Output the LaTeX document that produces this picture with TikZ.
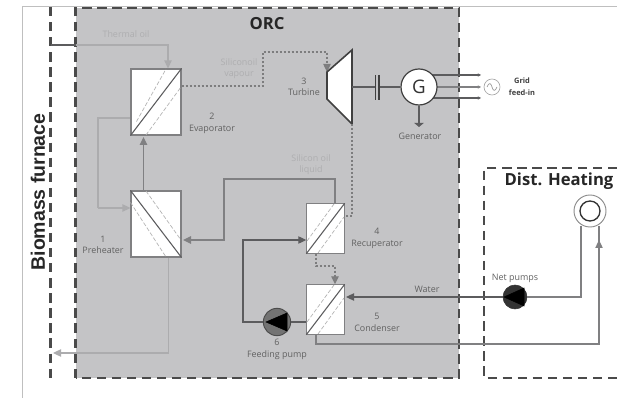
\documentclass[tikz,border=0pt]{standalone}
\usepackage{fontspec}
\setmainfont{Open Sans}
\newfontfamily\arialfont{Liberation Sans}
\usetikzlibrary{arrows.meta}
\definecolor{orcgray}{HTML}{C4C4C6}
\definecolor{dashgray}{HTML}{4A4A4A}
\definecolor{oilgray}{HTML}{ACACAE}
\definecolor{midgray}{HTML}{808082}
\definecolor{darkline}{HTML}{5C5C5E}
\definecolor{lighttext}{HTML}{AEAEB0}
\tikzset{
  frameline/.style={draw=black!25,line width=0.6pt},
  bigdash/.style={draw=dashgray,line width=1.6pt,dash pattern=on 7pt off 4.3pt},
  exbox/.style={draw=midgray,fill=white,line width=0.8pt,inner sep=0pt},
  diagmain/.style={draw=darkline,line width=0.8pt},
  diagdash/.style={draw=black!30,line width=0.5pt,dash pattern=on 3pt off 1.5pt},
  oilpipe/.style={draw=oilgray,line width=0.9pt},
  oilarrow/.style={oilpipe,-{Triangle[length=6pt,width=5.5pt]}},
  pipe/.style={draw=midgray,line width=1.1pt},
  pipearrow/.style={pipe,-{Triangle[length=6pt,width=5.5pt]}},
  darkpipe/.style={draw=darkline,line width=0.8pt},
  darkarrow/.style={darkpipe,-{Triangle[length=6pt,width=5.5pt]}},
  vapour/.style={draw=darkline!80,line width=1pt,dash pattern=on 1.5pt off 1.5pt},
  vapourarrow/.style={vapour,-{Triangle[length=6pt,width=5.5pt,fill=midgray,sep=0pt]}},
  lab/.style={font=\fontsize{6.7}{7.5}\selectfont,text=black!62,inner sep=0pt,align=center},
  lightlab/.style={font=\fontsize{6.7}{7.5}\selectfont,text=lighttext,inner sep=0pt,align=center},
  head/.style={font=\bfseries\fontsize{12.5}{14}\selectfont,text=black!85,inner sep=0pt},
  pumpbody/.style={circle,draw=black!70,fill=black!55,line width=0.7pt,inner sep=0pt},
  wire/.style={draw=darkline,line width=0.9pt}
}
\begin{document}
\begin{tikzpicture}[x=0.75pt,y=-0.75pt]
\useasboundingbox (0,0) rectangle (617,398);
\fill[white] (0,0) rectangle (617,398);
\draw[frameline] (617,6) -- (22.5,6) -- (22.5,398);
% ORC region
\fill[orcgray] (75.5,8) rectangle (459,378);
\draw[bigdash] (75.5,378) -- (75.5,8) -- (459,8) -- (459,378) -- cycle;
\draw[bigdash] (50.5,7) -- (50.5,379);
\draw[bigdash] (617,168) -- (484,168) -- (484,378) -- (617,378);
% Nodes
\node[exbox,minimum width=37.5pt,minimum height=49.5pt] (evap) at (156,102) {};
\node[exbox,minimum width=37.5pt,minimum height=49.5pt] (preh) at (156,224) {};
\node[exbox,minimum width=28pt,minimum height=37pt] (recu) at (325.5,228.5) {};
\node[exbox,minimum width=28pt,minimum height=37pt] (cond) at (325.5,309.5) {};
\coordinate (oilstart) at (50.5,45);
\coordinate (oilcorner) at (168,45);
\coordinate (evapin) at (evap.north -| oilcorner);
\coordinate (furnaceout) at (53,353);
% Exchanger diagonals
\draw[diagdash] (evap.south west)++(6,-14) -- (166,69);
\draw[diagdash] (146,135) -- (181,87);
\draw[diagmain] (evap.south west) -- (evap.north east);
\draw[diagdash] (preh.north west)++(0,12) -- (166,257);
\draw[diagdash] (146,191) -- (181,240);
\draw[diagmain] (preh.north west) -- (preh.south east);
\draw[diagdash] (307,241) -- (334,204);
\draw[diagdash] (318,253) -- (344,217);
\draw[diagmain] (recu.south west) -- (recu.north east);
\draw[diagdash] (307,322) -- (334,285);
\draw[diagdash] (318,334) -- (344,298);
\draw[diagmain] (cond.south west) -- (cond.north east);
% Oil circuit
\draw[darkpipe] (oilstart) -- (75.5,45);
\draw[oilarrow] (75.5,45) -- (oilcorner) -- (evapin);
\draw[oilpipe] (evap.west |- 0,118) -- (98,118) -- (98,208);
\draw[oilarrow] (98,208) -- (preh.west |- 0,208);
\draw[oilarrow] (preh.south -| 168.5,0) -- (168.5,353) -- (furnaceout);
\draw[pipearrow] (preh.north -| 143.5,0) -- (143.5,137);
% Vapour
\coordinate (turbtop) at (327,72);
\draw[vapourarrow] (evap.east |- 0,86) -- (263,86) -- (263,52) -- (327,52) -- (turbtop);
% Turbine and generator
\draw[draw=black!75,fill=white,line width=1.2pt] (327,72) -- (352,50) -- (352,124) -- (327,99) -- cycle;
\coordinate (turbout) at (352,87);
\coordinate (turbbase) at (352,124);
\coordinate (gtop) at (430,75);
\coordinate (gmid) at (430,87);
\coordinate (glow) at (430,98);
\draw[wire,-{Stealth[length=2.5pt,width=2.5pt]}] (gtop) -- (481,75);
\draw[draw=midgray,line width=0.8pt,-{Stealth[length=2.5pt,width=2.5pt]}] (gmid) -- (481,87);
\draw[wire,-{Stealth[length=2.5pt,width=2.5pt]}] (glow) -- (481,98);
\node[circle,draw=black!75,fill=white,line width=0.9pt,minimum size=27pt,inner sep=0pt,font=\fontsize{14}{16}\selectfont,text=black!80] (gen) at (419,87) {G};
\coordinate (coupa) at (375.5,87);
\coordinate (coupb) at (379,87);
\draw[wire] (turbout) -- (coupa);
\draw[wire] (coupb) -- (gen);
\draw[draw=black!75,line width=1pt] (375.5,75) -- (375.5,100);
\draw[draw=black!75,line width=1pt] (379,75) -- (379,100);
\node[circle,draw=black!35,line width=0.5pt,minimum size=12pt,inner sep=0pt,fill=white] (grid) at (492,87) {};
\draw[draw=black!40,line width=0.5pt] (487,87) .. controls (489,82) and (491,83) .. (492,87) .. controls (493,91) and (495,92) .. (497,87);
\coordinate (genlow) at (419,127);
\draw[darkpipe,-{Triangle[length=3pt,width=7pt]}] (gen.south) -- (genlow);
% Recuperator links
\draw[vapour] (turbbase) -- (352,216) -- (recu.east |- 0,216);
\draw[pipearrow] (recu.north -| 335,0) -- (335,179) -- (224,179) -- (224,240) -- (183,240);
\node[pumpbody,minimum size=20.5pt] (feedpump) at (277,322) {};
\draw[darkarrow] (feedpump.west) -- (243,322) -- (243,240) -- (recu.west |- 0,240);
\draw[darkpipe] (cond.west |- 0,322) -- (feedpump.east);
\draw[fill=black,draw=black] (266,322) -- (287,313) -- (287,331) -- cycle;
\draw[vapourarrow] (recu.south -| 316,0) -- (316,266) -- (335,266) -- (cond.north -| 335,0);
% Water circuit
\coordinate (ringleft) at (581,226);
\coordinate (ringright) at (599,226);
\node[circle,draw=black!45,fill=white,line width=0.7pt,minimum size=24pt,inner sep=0pt] (ring) at (590,211) {};
\node[circle,draw=black!80,fill=white,line width=1pt,minimum size=15pt,inner sep=0pt] (ringin) at (590,211) {};
\node[circle,draw=black!80,fill=black!80,minimum size=18pt,inner sep=0pt] (netpump) at (515,297) {};
\draw[fill=black,draw=black] (504,297) -- (524,288) -- (524,306) -- cycle;
\draw[pipe] (ringleft) -- (581,297) -- (netpump.east);
\draw[darkarrow] (netpump.west) -- (346,297);
\draw[pipe] (cond.south -| 316,0) -- (316,344) -- (599,344) -- (ringright);
\draw[oilarrow,draw=midgray] (599,250) -- (599,240);
% Labels
\node[head] (orc) at (267,24) {ORC};
\node[head] (dist) at (559,181) {Dist. Heating};
\node[font=\arialfont\bfseries\fontsize{14.6}{17}\selectfont,text=black!85,inner sep=0pt,rotate=90] (furn) at (38,192) {Biomass furnace};
\node[lightlab] (tlab) at (126,34) {Thermal oil};
\node[lightlab] (vlab) at (239,69) {Siliconoil\\[1pt]vapour};
\node[lightlab] (llab) at (311,165) {Silicon oil\\[1pt]liquid};
\node[lab] (l2) at (212,123.5) {2\\[1pt]Evaporator};
\node[lab] (l1) at (103,245) {1\\[1pt]Preheater};
\node[lab] (l3) at (304,86.5) {3\\[1pt]Turbine};
\node[lab] (l4) at (377,238.5) {4\\[1pt]Recuperator};
\node[lab] (l5) at (377,322.5) {5\\[1pt]Condenser};
\node[lab] (l6) at (277,349.5) {6\\[1pt]Feeding pump};
\node[lab] (lgen) at (420,136) {Generator};
\node[lab] (lwat) at (427,289) {Water};
\node[lab] (lnet) at (515,278) {Net pumps};
\node[lab,font=\bfseries\fontsize{5.6}{7}\selectfont,text=black!75] (lgrid) at (522,87) {Grid\\[2pt]feed-in};
\end{tikzpicture}
\end{document}
